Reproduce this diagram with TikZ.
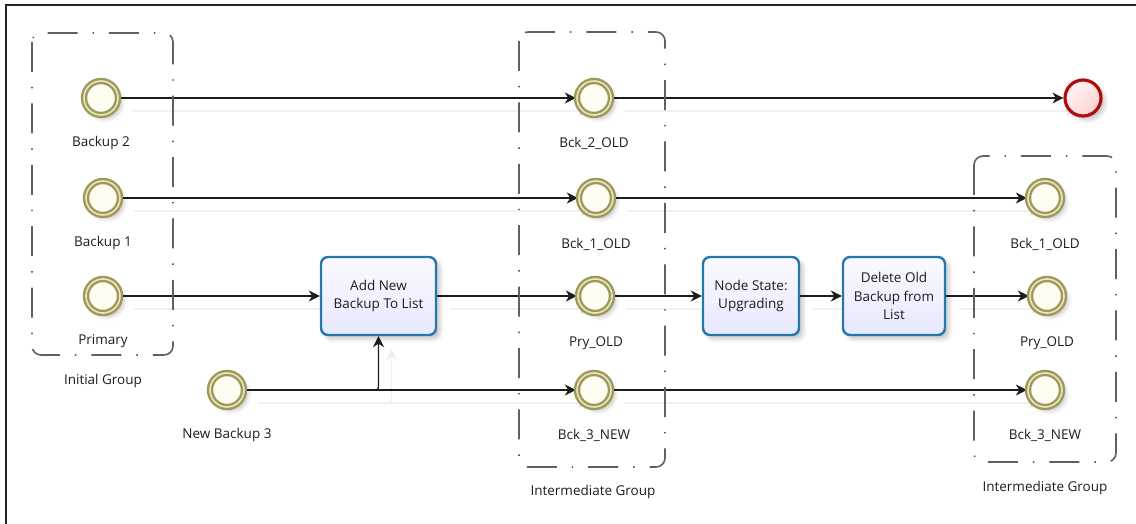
\documentclass[tikz,border=0pt]{standalone}
\usepackage{fontspec}
\setmainfont{Open Sans}
\usetikzlibrary{arrows.meta,shadows,shadows.blur,shadings}

\definecolor{ring}{RGB}{158,153,88}
\definecolor{ringgap}{RGB}{232,229,196}
\definecolor{cream}{RGB}{255,253,242}
\definecolor{endred}{RGB}{176,12,12}
\definecolor{taskblue}{RGB}{38,120,172}
\definecolor{grp}{RGB}{96,96,96}
\definecolor{ink}{RGB}{28,28,28}

\pgfdeclarelayer{links}
\pgfsetlayers{links,main}

\tikzset{
  softshadow/.style={blur shadow={shadow xshift=4pt, shadow yshift=-4pt,
      shadow opacity=22, shadow blur radius=4pt}},
  event/.style={circle, draw=ring, double=ringgap, double distance=1.6pt,
      line width=2.4pt, fill=cream, minimum size=34pt, inner sep=0pt, softshadow},
  endevent/.style={circle, draw=endred, line width=3.2pt, minimum size=36pt,
      inner sep=0pt, upper left=red!3, upper right=red!10, lower left=red!10,
      lower right=red!22, softshadow},
  task/.style={rectangle, rounded corners=7pt, draw=taskblue, line width=2.4pt,
      top color=blue!2!white, bottom color=blue!9!white, align=center,
      inner sep=2pt, text=ink, font=\fontsize{13.5}{18.5}\selectfont,
      minimum width=115pt, minimum height=78pt, softshadow},
  grpbox/.style={draw=grp, line width=1.6pt, rounded corners=9pt,
      dash pattern=on 30pt off 15pt on 1.4pt off 15pt},
  lbl/.style={font=\fontsize{13.5}{16}\selectfont, text=ink, anchor=base, inner sep=0pt},
  flow/.style={draw=ink, line width=1.3pt,
      -{Stealth[length=11pt,width=11pt,inset=3.5pt]},
      preaction={draw=black!6, line width=1.3pt,
        transform canvas={shift={(13pt,-13pt)}}}},
}

\begin{document}
\begin{tikzpicture}[x=1pt,y=-1pt]
\useasboundingbox (0,0) rectangle (1136,524);

% frame
\coordinate (fb) at (6,524);
\coordinate (fc) at (6,5);
\coordinate (fr) at (1136,5);
\draw[line width=1.6pt, draw=black!85] (fb) -- (fc) -- (fr);

% group frames (corners as named coordinates)
\coordinate (ginitA) at (32,33);   \coordinate (ginitB) at (173,355);
\coordinate (gmidA) at (519,32);   \coordinate (gmidB) at (665,467);
\coordinate (grightA) at (974,156); \coordinate (grightB) at (1116,462);
\draw[grpbox] (ginitA) rectangle (ginitB);
\draw[grpbox] (gmidA) rectangle (gmidB);
\draw[grpbox] (grightA) rectangle (grightB);
\node[lbl] (tginit) at (103,384) {Initial Group};
\node[lbl] (tgmid) at (593,495) {Intermediate Group};
\node[lbl] (tgright) at (1045,491) {Intermediate Group};

% initial group events
\node[event] (bk2) at (101,98) {};
\node[event] (bk1) at (103,198) {};
\node[event] (pri) at (103,296) {};
\node[event] (nb3) at (227,390) {};
\node[lbl] (tbk2) at (101,147) {Backup 2};
\node[lbl] (tbk1) at (103,247) {Backup 1};
\node[lbl] (tpri) at (103,344) {Primary};
\node[lbl] (tnb3) at (227,438) {New Backup 3};

% intermediate group events
\node[event] (b2o) at (594,98) {};
\node[event] (b1o) at (596,198) {};
\node[event] (pro) at (595,296) {};
\node[event] (b3n) at (594,390) {};
\node[lbl] (tb2o) at (594,148) {Bck\_2\_OLD};
\node[lbl] (tb1o) at (596,248) {Bck\_1\_OLD};
\node[lbl] (tpro) at (596,346) {Pry\_OLD};
\node[lbl] (tb3n) at (594,439) {Bck\_3\_NEW};

% final group events
\node[event] (r1) at (1045,198) {};
\node[event] (r2) at (1047,296) {};
\node[event] (r3) at (1045,390) {};
\node[lbl] (tr1) at (1045,248) {Bck\_1\_OLD};
\node[lbl] (tr2) at (1047,346) {Pry\_OLD};
\node[lbl] (tr3) at (1045,439) {Bck\_3\_NEW};

% end event
\node[endevent] (endev) at (1083,98) {};

% tasks
\node[task] (add) at (378.5,296) {Add New\\Backup To List};
\node[task, minimum width=96pt] (state) at (751,296) {Node State:\\Upgrading};
\node[task, minimum width=102pt] (del) at (894,296) {Delete Old\\Backup from\\List};

% sequence flows
\begin{pgfonlayer}{links}
\draw[flow] (bk2) -- (b2o);
\draw[flow] (b2o) -- (endev);
\draw[flow] (bk1) -- (b1o);
\draw[flow] (b1o) -- (r1);
\draw[flow] (pri) -- (add);
\draw[flow] (add) -- (pro);
\draw[flow] (pro) -- (state);
\draw[flow] (state) -- (del);
\draw[flow] (del) -- (r2);
\draw[flow, rounded corners=3pt] (nb3.east) -| (add.south);
\draw[flow] (nb3) -- (b3n);
\draw[flow] (b3n) -- (r3);
\end{pgfonlayer}
\end{tikzpicture}
\end{document}
